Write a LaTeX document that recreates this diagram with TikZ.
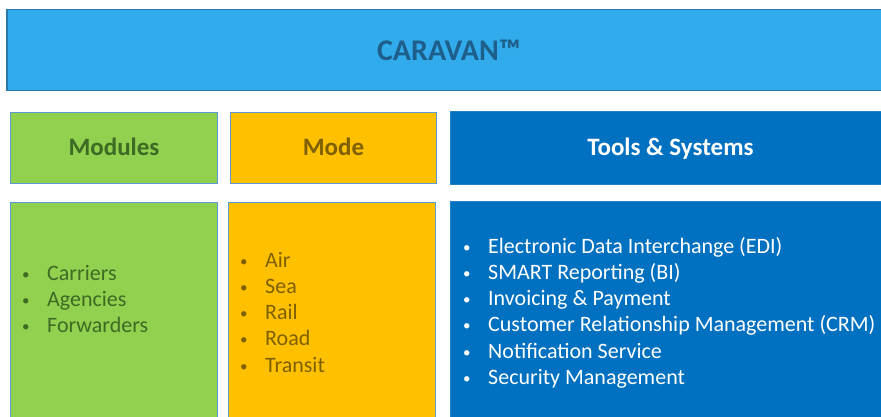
\documentclass[tikz,border=0pt]{standalone}
\usepackage{fontspec}
\setmainfont{Carlito}
\definecolor{topfill}{HTML}{31ABEB}
\definecolor{topline}{HTML}{2A78AE}
\definecolor{toptext}{HTML}{1D5F8A}
\definecolor{grn}{HTML}{92D050}
\definecolor{grntext}{HTML}{3D6B24}
\definecolor{org}{HTML}{FFC000}
\definecolor{orgtext}{HTML}{7F6000}
\definecolor{blu}{HTML}{0070C0}
\definecolor{edge}{HTML}{5B9BD5}
\tikzset{
  panel/.style={rectangle, anchor=north west, inner sep=0pt, draw=edge, line width=0.9pt},
  hdr/.style={panel, minimum height=71pt, text height=18pt, text depth=2pt, font=\fontsize{25}{30}\selectfont\bfseries},
  litem/.style={anchor=base west, inner sep=0pt, font=\fontsize{22}{26.4}\selectfont},
}
\newcommand{\bul}{\llap{\makebox[25pt][l]{\raisebox{1pt}{\fontsize{15}{15}\selectfont•}}}}
\begin{document}
\begin{tikzpicture}[x=1pt,y=-1pt]
\useasboundingbox (0,0) rectangle (881,417);
\clip (0,0) rectangle (881,417);
% title
\node[panel, fill=topfill, draw=topline, line width=1.5pt, minimum width=884pt, minimum height=81pt,
      font=\fontsize{30}{36}\selectfont\bfseries, text=toptext] (title) at (6,9) {CARAVAN™};
% headers
\node[hdr, fill=grn, text=grntext, minimum width=207pt] (hmod) at (10,112) {Modules};
\node[hdr, fill=org, text=orgtext, minimum width=206pt] (hmode) at (230,112) {Mode};
\node[hdr, fill=blu, draw=blu!60!edge, text=white, minimum width=440pt, minimum height=73pt] (htool) at (450,111) {Tools \& Systems};
% bodies
\node[panel, fill=grn, minimum width=207pt, minimum height=240pt] (bmod) at (10,202) {};
\node[panel, fill=org, minimum width=207pt, minimum height=240pt] (bmode) at (228,202) {};
\node[panel, fill=blu, draw=blu!60!edge, minimum width=440pt, minimum height=240pt] (btool) at (450,201) {};
% lists
\foreach \t [count=\i] in {Carriers,Agencies,Forwarders}
  \node[litem, text=grntext] (mod\i) at (47,{280+26.3*(\i-1)}) {\bul\t};
\foreach \t [count=\i] in {Air,Sea,Rail,Road,Transit}
  \node[litem, text=orgtext] (mode\i) at (265,{267+26.3*(\i-1)}) {\bul\t};
\foreach \t [count=\i] in {Electronic Data Interchange (EDI),SMART Reporting (BI),Invoicing \& Payment,Customer Relationship Management (CRM),Notification Service,Security Management}
  \node[litem, text=white] (tool\i) at (488,{253+26.3*(\i-1)}) {\bul\t};
\end{tikzpicture}
\end{document}
